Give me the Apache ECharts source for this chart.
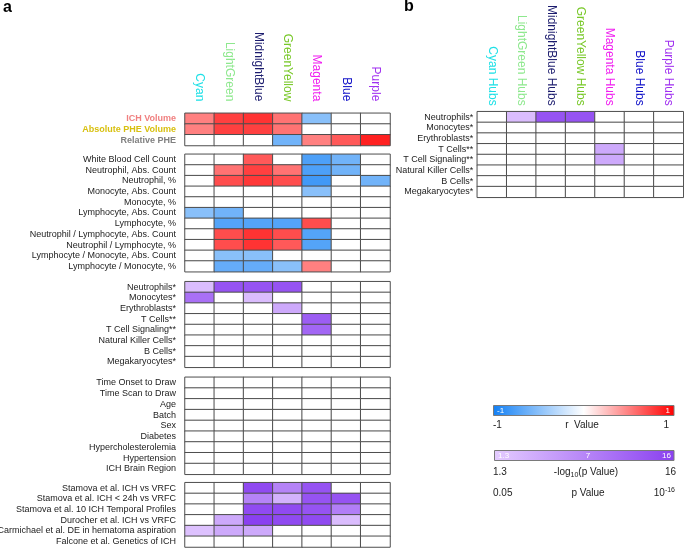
<!DOCTYPE html>
<html><head><meta charset="utf-8">
<script src="https://cdn.jsdelivr.net/npm/echarts@6/dist/echarts.min.js"></script>
<style>html,body{margin:0;padding:0;background:#fff}#c{width:684px;height:549px}</style>
</head><body><div id="c"></div>
<script>
// ---------------- DATA ----------------
const modules = ['Cyan','LightGreen','MidnightBlue','GreenYellow','Magenta','Blue','Purple'];
const hubModules = ['Cyan Hubs','LightGreen Hubs','MidnightBlue Hubs','GreenYellow Hubs','Magenta Hubs','Blue Hubs','Purple Hubs'];

const traitRows = ['ICH Volume','Absolute PHE Volume','Relative PHE'];
const traitR = [
  [0.5, 0.75, 0.8, 0.55, -0.5, 0, 0],
  [0.5, 0.75, 0.75, 0.55, 0, 0, 0],
  [0, 0, 0, -0.6, 0.5, 0.65, 0.87]
];

const bloodRows = ['White Blood Cell Count','Neutrophil, Abs. Count','Neutrophil, %','Monocyte, Abs. Count','Monocyte, %',
  'Lymphocyte, Abs. Count','Lymphocyte, %','Neutrophil / Lymphocyte, Abs. Count','Neutrophil / Lymphocyte, %',
  'Lymphocyte / Monocyte, Abs. Count','Lymphocyte / Monocyte, %'];
const bloodR = [
  [0, 0, 0.65, 0, -0.75, -0.6, 0],
  [0, 0.55, 0.75, 0.55, -0.75, -0.6, 0],
  [0, 0.7, 0.78, 0.7, -0.8, 0, -0.6],
  [0, 0, 0, 0, -0.5, 0, 0],
  [0, 0, 0, 0, 0, 0, 0],
  [-0.5, -0.6, 0, 0, 0, 0, 0],
  [0, -0.72, -0.72, -0.72, 0.7, 0, 0],
  [0, 0.7, 0.8, 0.7, -0.72, 0, 0],
  [0, 0.7, 0.8, 0.65, -0.72, 0, 0],
  [0, -0.5, -0.5, 0, 0, 0, 0],
  [0, -0.65, -0.65, -0.5, 0.5, 0, 0]
];

const cellRows = ['Neutrophils*','Monocytes*','Erythroblasts*','T Cells**','T Cell Signaling**','Natural Killer Cells*','B Cells*','Megakaryocytes*'];
const cellP = [
  [3, 14, 14, 14, 0, 0, 0],
  [11, 0, 3, 0, 0, 0, 0],
  [0, 0, 0, 5, 0, 0, 0],
  [0, 0, 0, 0, 13, 0, 0],
  [0, 0, 0, 0, 12, 0, 0],
  [0, 0, 0, 0, 0, 0, 0],
  [0, 0, 0, 0, 0, 0, 0],
  [0, 0, 0, 0, 0, 0, 0]
];

const covRows = ['Time Onset to Draw','Time Scan to Draw','Age','Batch','Sex','Diabetes','Hypercholesterolemia','Hypertension','ICH Brain Region'];
const covP = [
  [0,0,0,0,0,0,0],[0,0,0,0,0,0,0],[0,0,0,0,0,0,0],[0,0,0,0,0,0,0],[0,0,0,0,0,0,0],
  [0,0,0,0,0,0,0],[0,0,0,0,0,0,0],[0,0,0,0,0,0,0],[0,0,0,0,0,0,0]
];

const studyRows = ['Stamova et al. ICH vs VRFC','Stamova et al. ICH < 24h vs VRFC','Stamova et al. 10 ICH Temporal Profiles',
  'Durocher et al. ICH vs VRFC','Carmichael et al. DE in hematoma aspiration','Falcone et al. Genetics of ICH'];
const studyP = [
  [0, 0, 15, 9, 14, 0, 0],
  [0, 0, 9, 4, 14, 14, 0],
  [0, 0, 15, 15, 14, 9.5, 0],
  [0, 5, 16, 15, 15, 3, 0],
  [2.5, 5, 5, 0, 0, 0, 0],
  [0, 0, 0, 0, 0, 0, 0]
];

const hubRows = ['Neutrophils*','Monocytes*','Erythroblasts*','T Cells**','T Cell Signaling**','Natural Killer Cells*','B Cells*','Megakaryocytes*'];
const hubP = [
  [0, 3, 14, 14, 0, 0, 0],
  [0, 0, 0, 0, 0, 0, 0],
  [0, 0, 0, 0, 0, 0, 0],
  [0, 0, 0, 0, 5, 0, 0],
  [0, 0, 0, 0, 5, 0, 0],
  [0, 0, 0, 0, 0, 0, 0],
  [0, 0, 0, 0, 0, 0, 0],
  [0, 0, 0, 0, 0, 0, 0]
];

const rTicks = ['-1', 'r  Value', '1'];
const pTicks = ['1.3', '16'];
const pValueTicks = ['0.05', '10'];

// ---------------- STYLE ----------------
const moduleColors = ['#1ee0e6','#8ee88e','#1c1c6e','#78c828','#f020f0','#1010c8','#a030f0'];
const traitColors = ['#f08080','#d8c010','#808080'];
const rStops = [[-1,[18,128,245]],[0,[255,255,255]],[1,[255,0,0]]];
const pStops = [[1.3,[228,204,255]],[16,[138,64,240]]];
const FONT = '"Liberation Sans", Arial, Helvetica, sans-serif';

function ramp(stops, v) {
  if (v <= stops[0][0]) return stops[0][1];
  for (let i = 1; i < stops.length; i++) {
    if (v <= stops[i][0]) {
      const a = stops[i-1], b = stops[i];
      const t = (v - a[0]) / (b[0] - a[0]);
      return a[1].map((c, k) => Math.round(c + (b[1][k] - c) * t));
    }
  }
  return stops[stops.length-1][1];
}
const rgb = c => 'rgb(' + c.join(',') + ')';
const rColor = v => rgb(ramp(rStops, v));
const pColor = v => (v < 1.3 ? '#ffffff' : rgb(ramp(pStops, v)));

function cells(matrix, colorFn) {
  const out = [];
  matrix.forEach((row, y) => row.forEach((v, x) => {
    out.push({ value: [x, y, v], itemStyle: { color: colorFn(v) } });
  }));
  return out;
}

// grid geometry
const blocks = [
  { rows: traitRows, data: cells(traitR, rColor), left: 185, width: 205, top: 113.3, height: 32.2, xl: true, margin: 12, bold: true },
  { rows: bloodRows, data: cells(bloodR, rColor), left: 185, width: 205, top: 154.3, height: 117.4 },
  { rows: cellRows, data: cells(cellP, pColor), left: 185, width: 205, top: 281.7, height: 85.6 },
  { rows: covRows, data: cells(covP, pColor), left: 185, width: 205, top: 377.3, height: 97 },
  { rows: studyRows, data: cells(studyP, pColor), left: 185, width: 205, top: 482.7, height: 64.3 },
  { rows: hubRows, data: cells(hubP, pColor), left: 477.3, width: 206, top: 111.7, height: 85.6, xl: true, margin: 6, hub: true, ymargin: 4 }
];

const grid = [], xAxis = [], yAxis = [], series = [];
blocks.forEach((b, i) => {
  grid.push({ left: b.left, top: b.top, width: b.width, height: b.height, containLabel: false, outerBoundsMode: 'none' });
  xAxis.push({
    type: 'category', gridIndex: i, position: 'top', data: b.hub ? hubModules : modules,
    axisLine: { show: false }, axisTick: { show: false }, splitLine: { show: false },
    axisLabel: {
      show: !!b.xl, rotate: 90, interval: 0, margin: b.margin || 8, fontSize: 12, fontFamily: FONT,
      color: (v, idx) => moduleColors[idx]
    }
  });
  yAxis.push({
    type: 'category', gridIndex: i, inverse: true, data: b.rows,
    axisLine: { show: false }, axisTick: { show: false }, splitLine: { show: false },
    axisLabel: {
      interval: 0, fontSize: 9, fontFamily: FONT, margin: b.ymargin || 9,
      fontWeight: b.bold ? 'bold' : 'normal',
      color: b.bold ? ((v, idx) => traitColors[idx]) : '#222'
    }
  });
  series.push({
    type: 'heatmap', xAxisIndex: i, yAxisIndex: i, data: b.data, silent: true,
    itemStyle: { borderColor: '#4d4d4d', borderWidth: 1 },
    emphasis: { disabled: true }
  });
});

// colorbars from the same ramps
function gradStops(stops) {
  const lo = stops[0][0], hi = stops[stops.length-1][0];
  return stops.map(s => ({ offset: (s[0] - lo) / (hi - lo), color: rgb(s[1]) }));
}
const txt = (x, y, text, opt) => Object.assign({ type: 'text', x, y, silent: true,
  style: Object.assign({ text, fontSize: 10, fontFamily: FONT, fill: '#222', align: 'left', verticalAlign: 'middle' }, opt || {}) });

const graphic = [
  txt(3, 8, 'a', { fontSize: 16, fontWeight: 'bold', fill: '#000' }),
  txt(404, 7, 'b', { fontSize: 16, fontWeight: 'bold', fill: '#000' }),
  { type: 'rect', silent: true, shape: { x: 493.5, y: 405.5, width: 180.5, height: 10 },
    style: { fill: { type: 'linear', x: 0, y: 0, x2: 1, y2: 0, colorStops: gradStops(rStops) }, stroke: '#7a7a7a', lineWidth: 1 } },
  { type: 'rect', silent: true, shape: { x: 494.5, y: 450.5, width: 179.5, height: 10 },
    style: { fill: { type: 'linear', x: 0, y: 0, x2: 1, y2: 0, colorStops: gradStops(pStops) }, stroke: '#7a7a7a', lineWidth: 1 } },
  txt(497, 410.5, '-1', { fontSize: 8, fill: '#fff' }),
  txt(670, 410.5, '1', { fontSize: 8, fill: '#fff', align: 'right' }),
  txt(498, 455.5, '1.3', { fontSize: 8, fill: '#fff' }),
  txt(588, 455.5, '7', { fontSize: 8, fill: '#fff', align: 'center' }),
  txt(671, 455.5, '16', { fontSize: 8, fill: '#fff', align: 'right' }),
  txt(493, 425, rTicks[0]),
  txt(582, 425, rTicks[1], { align: 'center' }),
  txt(669, 425, rTicks[2], { align: 'right' }),
  txt(493, 472.5, pTicks[0]),
  txt(586, 472.5, '-log{s|10}(p Value)', { align: 'center', rich: { s: { fontSize: 7, fontFamily: FONT, fill: '#222', verticalAlign: 'bottom', lineHeight: 13 } } }),
  txt(676, 472.5, pTicks[1], { align: 'right' }),
  txt(493, 493, pValueTicks[0]),
  txt(588, 493, 'p Value', { align: 'center' }),
  txt(675, 493, pValueTicks[1] + '{s|-16}', { align: 'right', rich: { s: { fontSize: 7, fontFamily: FONT, fill: '#222', verticalAlign: 'top', lineHeight: 13 } } })
];

const chart = echarts.init(document.getElementById('c'), null, { renderer: 'canvas' });
chart.setOption({ animation: false, backgroundColor: '#fff', grid, xAxis, yAxis, series, graphic });
</script></body></html>
